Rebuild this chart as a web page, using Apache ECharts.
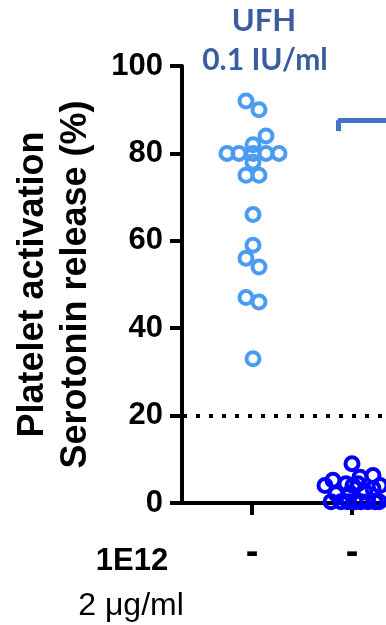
<!DOCTYPE html>
<html><head><meta charset="utf-8">
<script src="https://cdn.jsdelivr.net/npm/echarts@6/dist/echarts.min.js"></script>
<style>html,body{margin:0;padding:0;background:#fff}#c{width:386px;height:625px}</style>
</head><body><div id="c"></div>
<script>
// Data
const yTicks = [0, 20, 40, 60, 80, 100];
const groupPositions = [1, 2];
const groupDashLabels = ['-', '-'];
const thresholdValue = 20;
// UFH 0.1 IU/ml group (group 1): values and horizontal swarm offsets
const ufhValues  = [92, 90, 84, 82, 80, 80, 80, 80, 80, 78, 75, 75, 66, 59, 56, 54, 47, 46, 33];
const ufhOffsets = [-0.06, 0.07, 0.14, 0.01, -0.25, -0.13, 0.01, 0.14, 0.27, 0.01, -0.06, 0.07, 0.01, 0.01, -0.06, 0.07, -0.06, 0.07, 0.01];
// Group 2 values and offsets
const g2Values  = [9.0, 5.2, 5.9, 6.3, 4.4, 4.0, 4.4, 4.0, 4.0, 3.3, 2.1, 2.3, 2.6, 0.3, 0.3, 0.3, 0.3, 0.3, 0.3, 0.3, 0.3];
const g2Offsets = [0.0, -0.19, 0.08, 0.21, -0.06, 0.01, 0.06, -0.27, 0.28, 0.21, -0.16, -0.02, 0.13, -0.21, -0.11, -0.04, 0.03, 0.09, 0.16, 0.23, 0.27];
// Significance bracket fragment (x, y in data units)
const bracketX = [1.86, 2.34];
const bracketY = [85.1, 87.6];

const ufhPts = ufhValues.map((v, i) => [groupPositions[0] + ufhOffsets[i], v]);
const g2Pts = g2Values.map((v, i) => [groupPositions[1] + g2Offsets[i], v]);

const chart = echarts.init(document.getElementById('c'), null, {renderer: 'canvas'});
const F = '"Liberation Sans", Arial, sans-serif';
const FT = 'Lato, "Open Sans", sans-serif';
chart.setOption({
  animation: false,
  grid: {left: 182, right: 0, top: 66, bottom: 122, containLabel: false},
  title: [
    {text: 'UFH', left: 264, top: 5, textAlign: 'center', padding: 0,
     textStyle: {fontFamily: FT, fontWeight: 'bold', fontSize: 31, color: '#3A5D9F'}},
    {text: '0.1 IU/ml', left: 265, top: 45, textAlign: 'center', padding: 0,
     textStyle: {fontFamily: FT, fontWeight: 'bold', fontSize: 30, color: '#3A5D9F'}},
    {text: '1E12', left: 132, top: 546, textAlign: 'center', padding: 0,
     textStyle: {fontFamily: F, fontWeight: 'bold', fontSize: 31, color: '#000'}},
    {text: '2 μg/ml', left: 131, top: 590, textAlign: 'center', padding: 0,
     textStyle: {fontFamily: F, fontWeight: 'normal', fontSize: 32, color: '#000'}}
  ],
  xAxis: {
    type: 'value', min: 0.3, max: 2.34,
    splitLine: {show: false},
    axisLine: {show: true, onZero: false, lineStyle: {color: '#000', width: 4}},
    axisTick: {show: true, customValues: groupPositions, length: 12, lineStyle: {color: '#000', width: 4}},
    axisLabel: {show: true, customValues: groupPositions, margin: 32,
      formatter: (v) => groupDashLabels[groupPositions.indexOf(v)] || '',
      fontFamily: F, fontWeight: 'bold', fontSize: 38, color: '#000'}
  },
  yAxis: {
    type: 'value', min: 0, max: 100, interval: 20,
    name: 'Platelet activation\nSerotonin release (%)',
    nameLocation: 'middle', nameRotate: 90, nameGap: 84,
    nameTextStyle: {fontFamily: F, fontWeight: 'bold', fontSize: 36, color: '#000', lineHeight: 43},
    splitLine: {show: false},
    axisLine: {show: true, lineStyle: {color: '#000', width: 4}},
    axisTick: {show: true, length: 12, lineStyle: {color: '#000', width: 4}},
    axisLabel: {margin: 19, fontFamily: F, fontWeight: 'bold', fontSize: 31, color: '#000',
      formatter: (v) => yTicks.indexOf(v) >= 0 ? String(v) : ''}
  },
  series: [
    {
      type: 'scatter', data: ufhPts, symbol: 'circle', symbolSize: 13,
      itemStyle: {color: 'rgba(0,0,0,0)', borderColor: '#4A9CF2', borderWidth: 4, opacity: 1},
      markLine: {
        silent: true, symbol: 'none', label: {show: false},
        lineStyle: {color: '#000', width: 4, type: [4, 9], dashOffset: -14},
        data: [[{coord: [0.3, thresholdValue]}, {coord: [2.34, thresholdValue]}]]
      },
      z: 3
    },
    {
      type: 'scatter', data: g2Pts, symbol: 'circle', symbolSize: 13,
      itemStyle: {color: 'rgba(0,0,0,0)', borderColor: '#0000FF', borderWidth: 4, opacity: 1},
      markLine: {
        silent: true, symbol: 'none', label: {show: false},
        lineStyle: {color: '#4472C4', width: 5, type: 'solid'},
        data: [
          [{coord: [bracketX[0], bracketY[0]]}, {coord: [bracketX[0], bracketY[1]]}],
          [{coord: [bracketX[0], bracketY[1]]}, {coord: [bracketX[1], bracketY[1]]}]
        ]
      },
      z: 3
    }
  ]
});
</script></body></html>
